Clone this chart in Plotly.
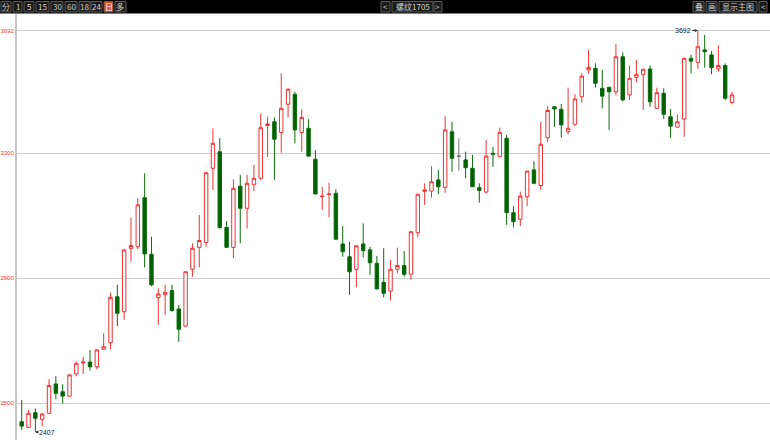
import plotly.graph_objects as go

# ---------------- data ----------------
opens = [2440, 2422, 2469, 2448, 2467, 2561, 2536, 2522, 2593, 2628,
         2631, 2616, 2672, 2693, 2840, 2792, 2995, 3000, 3157, 2976,
         2837, 2846, 2860, 2801, 2746, 2928, 2998, 3014, 3251, 3304,
         3062, 2998, 3194, 3123, 3198, 3219, 3388, 3400, 3366, 3456,
         3488, 3366, 3379, 3280, 3160, 3167, 3171, 3009, 2968, 2928,
         3009, 2990, 2947, 2886, 2858, 2928, 2940, 2912, 3045, 3177,
         3178, 3214, 3190, 3368, 3290, 3278, 3251, 3189, 3175, 3299,
         3288, 3347, 3109, 3088, 3160, 3246, 3196, 3349, 3448, 3440,
         3368, 3392, 3480, 3566, 3571, 3507, 3510, 3496, 3608, 3486,
         3542, 3552, 3569, 3443, 3491, 3416, 3383, 3409, 3603, 3590,
         3630, 3614, 3569, 3580, 3462]
highs = [2510, 2478, 2483, 2467, 2576, 2586, 2560, 2592, 2632, 2648,
         2670, 2672, 2723, 2853, 2878, 2991, 3093, 3155, 3235, 3032,
         2867, 2878, 2878, 2814, 2921, 3011, 3102, 3238, 3379, 3347,
         3082, 3216, 3230, 3230, 3262, 3427, 3416, 3414, 3555, 3507,
         3496, 3440, 3408, 3310, 3192, 3205, 3184, 3066, 3016, 3004,
         3075, 3000, 2970, 2995, 2958, 2997, 2986, 3049, 3169, 3203,
         3258, 3246, 3418, 3400, 3347, 3304, 3294, 3203, 3342, 3320,
         3381, 3358, 3130, 3176, 3243, 3274, 3400, 3450, 3450, 3457,
         3509, 3488, 3555, 3630, 3587, 3566, 3512, 3648, 3622, 3580,
         3598, 3568, 3580, 3509, 3507, 3441, 3424, 3605, 3614, 3692,
         3678, 3626, 3644, 3587, 3496]
lows = [2414, 2420, 2407, 2425, 2465, 2512, 2499, 2520, 2586, 2593,
        2604, 2608, 2671, 2672, 2746, 2766, 2952, 2992, 2934, 2874,
        2750, 2782, 2792, 2696, 2744, 2904, 2934, 3000, 3182, 3059,
        2998, 2963, 3011, 3059, 3178, 3214, 3288, 3214, 3301, 3414,
        3331, 3304, 3290, 3168, 3118, 3094, 3023, 2968, 2846, 2870,
        2966, 2910, 2864, 2838, 2828, 2915, 2904, 2894, 3030, 3134,
        3157, 3168, 3173, 3240, 3244, 3219, 3192, 3141, 3171, 3256,
        3288, 3070, 3062, 3066, 3130, 3200, 3182, 3334, 3384, 3349,
        3360, 3386, 3462, 3555, 3509, 3443, 3374, 3484, 3466, 3470,
        3526, 3438, 3448, 3443, 3409, 3349, 3381, 3352, 3555, 3569,
        3573, 3552, 3560, 3470, 3456]
closes = [2426, 2467, 2451, 2465, 2556, 2531, 2522, 2590, 2627, 2631,
          2616, 2670, 2680, 2838, 2787, 2990, 3004, 3134, 2977, 2878,
          2849, 2854, 2796, 2736, 2920, 2995, 3020, 3237, 3331, 3061,
          2998, 3187, 3123, 3203, 3219, 3381, 3393, 3344, 3443, 3504,
          3374, 3414, 3290, 3169, 3162, 3169, 3024, 2984, 2920, 3003,
          2988, 2949, 2865, 2851, 2928, 2940, 2912, 3048, 3168, 3182,
          3208, 3192, 3374, 3283, 3290, 3253, 3192, 3180, 3290, 3296,
          3366, 3109, 3080, 3162, 3242, 3203, 3328, 3436, 3441, 3390,
          3379, 3473, 3546, 3574, 3523, 3482, 3496, 3608, 3470, 3539,
          3552, 3568, 3464, 3493, 3424, 3386, 3400, 3603, 3594, 3640,
          3624, 3573, 3580, 3475, 3486]

y_tick_vals = [2500, 2900, 3300, 3692]
y_tick_text = ["2500", "2900", "3300", "3692"]
max_label = "3692"
min_label = "2407"

period_buttons = ["分", "1", "5", "15", "30", "60", "18", "24", "日", "多"]
contract_label = "螺纹1705"
right_buttons = ["叠", "画", "显示主图", "<"]

# ---------------- figure ----------------
W, H = 770, 440
ML, MT = 17, 14
PW, PH = W - ML, H - MT


def px2x(px):
    return (px - ML) / PW


def py2y(py):
    return (H - py) / PH


idx = list(range(len(opens)))
moving = [i for i in idx if opens[i] != closes[i]]
flat = [i for i in idx if opens[i] == closes[i]]

fig = go.Figure()
fig.add_trace(go.Candlestick(
    x=moving,
    open=[opens[i] for i in moving], high=[highs[i] for i in moving],
    low=[lows[i] for i in moving], close=[closes[i] for i in moving],
    increasing=dict(line=dict(color="#ee3333", width=1), fillcolor="#ffffff"),
    decreasing=dict(line=dict(color="#0b6b0b", width=1), fillcolor="#006000"),
    whiskerwidth=0, hoverinfo="skip", showlegend=False,
))
fig.add_trace(go.Candlestick(
    x=flat,
    open=[opens[i] for i in flat], high=[highs[i] for i in flat],
    low=[lows[i] for i in flat], close=[closes[i] for i in flat],
    increasing=dict(line=dict(color="#777777", width=1), fillcolor="#777777"),
    decreasing=dict(line=dict(color="#777777", width=1), fillcolor="#777777"),
    whiskerwidth=0, hoverinfo="skip", showlegend=False,
))

imax = highs.index(max(highs))
imin = lows.index(min(lows))

shapes = []
annotations = [
    dict(x=imax, y=max(highs), text=max_label, showarrow=True, arrowhead=2,
         arrowsize=0.6, arrowwidth=1, arrowcolor="#222222", ax=-15, ay=0,
         font=dict(size=7, color="#222222", family="Liberation Sans")),
    dict(x=imin, y=min(lows), text=min_label, showarrow=True, arrowhead=2,
         arrowsize=0.6, arrowwidth=1, arrowcolor="#222222", ax=12, ay=0,
         font=dict(size=7, color="#222222", family="Liberation Sans")),
]

# toolbar background
shapes.append(dict(type="rect", xref="paper", yref="paper", x0=px2x(0), x1=px2x(W),
                   y0=py2y(13.5), y1=py2y(0), fillcolor="#000000", line=dict(width=0),
                   layer="above"))


def button(x0, x1, label, hot=False):
    shapes.append(dict(type="rect", xref="paper", yref="paper",
                       x0=px2x(x0), x1=px2x(x1), y0=py2y(12), y1=py2y(1.5),
                       fillcolor="#e8501e" if hot else "#1a1a1a",
                       line=dict(color="#5a5a5a", width=1), layer="above"))
    annotations.append(dict(xref="paper", yref="paper", x=px2x((x0 + x1) / 2),
                            y=py2y(6.8), text=label, showarrow=False,
                            font=dict(size=8, color="#ffffff" if hot else "#d0d0d0",
                                      family="Noto Sans CJK SC"),
                            xanchor="center", yanchor="middle"))


pb_pos = [(1, 11), (13, 22), (24, 34), (36, 49), (51, 63), (65, 77),
          (79, 90), (91, 102), (104, 113), (115, 126)]
for (a, b), lab in zip(pb_pos, period_buttons):
    button(a, b, lab, hot=(lab == "日"))

button(381, 390, "<")
button(392, 433, contract_label)
button(434, 442, ">")

rb_pos = [(693, 704), (706, 717), (719, 757), (759, 767)]
for (a, b), lab in zip(rb_pos, right_buttons):
    button(a, b, lab)

fig.update_layout(
    width=W, height=H,
    margin=dict(l=ML, r=0, t=MT, b=0, autoexpand=False),
    paper_bgcolor="#ffffff", plot_bgcolor="#ffffff",
    boxgap=0.28,
    shapes=shapes, annotations=annotations,
    xaxis=dict(range=[(ML - 21.7) / 6.83, (W - 21.7) / 6.83], showgrid=False,
               zeroline=False, showticklabels=False, showline=False,
               rangeslider=dict(visible=False), fixedrange=True, automargin=False),
    yaxis=dict(range=[2381.6, 3744.8], tickvals=y_tick_vals, ticktext=y_tick_text,
               showgrid=True, gridcolor="#cfcfcf", gridwidth=1, zeroline=False,
               showline=True, linecolor="#c4c4c4", linewidth=2, ticks="",
               tickfont=dict(size=6, color="#ff3333", family="Liberation Sans"),
               ticklabelstandoff=0, fixedrange=True, automargin=False),
)

fig.write_html("out.html", config={"displayModeBar": False, "staticPlot": True},
               post_script="document.body.style.margin='0';document.body.style.overflow='hidden';")
